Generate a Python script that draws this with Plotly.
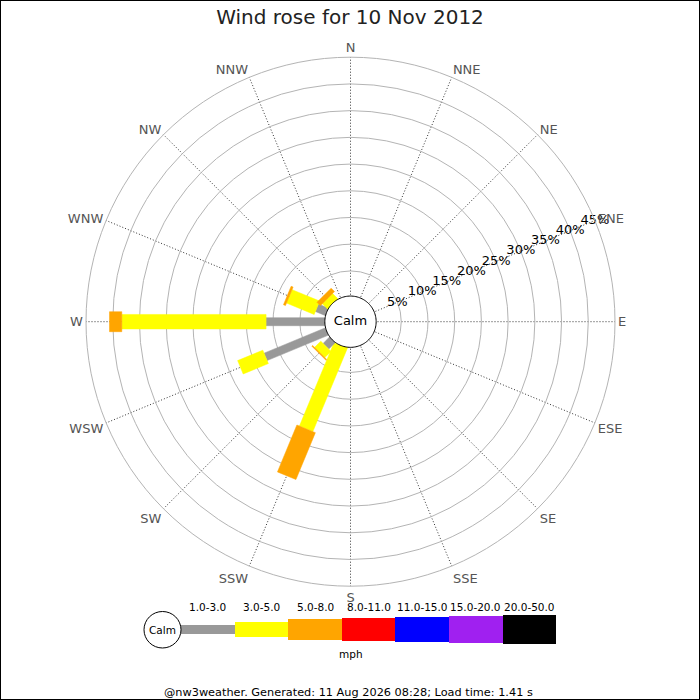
import numpy as np
import plotly.graph_objects as go

# compass points, clockwise from north
directions = ["N", "NNE", "NE", "ENE", "E", "ESE", "SE", "SSE",
              "S", "SSW", "SW", "WSW", "W", "WNW", "NW", "NNW"]
dir_angles = [0, 22.5, 45, 67.5, 90, 112.5, 135, 157.5,
              180, 202.5, 225, 247.5, 270, 292.5, 315, 337.5]

speed_ranges = ["1.0-3.0", "3.0-5.0", "5.0-8.0", "8.0-11.0",
                "11.0-15.0", "15.0-20.0", "20.0-50.0"]
range_colors = ["#999999", "#ffff00", "#ffa500", "#ff0000",
                "#0000ff", "#a020f0", "#000000"]

# % of time per direction for each speed range (mph)
pct_1_3 = [0, 0, 0, 0, 0, 0, 0, 0, 0, 0, 2.0, 12.7, 11.3, 2.3, 0, 0]
pct_3_5 = [0, 0, 0, 0, 0, 0, 0, 0, 0, 17.2, 1.65, 5.1, 27.0, 5.6, 1.6, 0]
pct_5_8 = [0, 0, 0, 0, 0, 0, 0, 0, 0, 9.5, 0.2, 0, 2.3, 0.4, 0.9, 0]
pct_8_11 = [0] * 16
pct_11_15 = [0] * 16
pct_15_20 = [0] * 16
pct_20_50 = [0] * 16
calm_pct = 0

ring_ticks = [5, 10, 15, 20, 25, 30, 35, 40, 45]
ring_labels = ["5%", "10%", "15%", "20%", "25%", "30%", "35%", "40%", "45%"]

title_text = "Wind rose for 10 Nov 2012"
unit_text = "mph"
footer_text = "@nw3weather. Generated: 11 Aug 2026 08:28; Load time: 1.41 s"

# --- geometry ---
W = H = 700
CX, CY, RAD = 350.5, 321.7, 264.5       # polar circle in pixels
R_MIN, R_MAX = -4.5, 45                  # calm circle edge sits at r = 0
PX_PER_UNIT = RAD / (R_MAX - R_MIN)
bar_px = [8, 14.5, 20, 23, 25, 27, 29]   # bar thickness per speed range
legend_px = [8.3, 15, 20.3, 23, 25, 27, 28.7]
FONT = "DejaVu Sans"


def seg_polygon(theta0, r_in, r_out, width_px):
    # straight-sided bar segment along direction theta0
    half = width_px / 2 / PX_PER_UNIT
    d_in, d_out = r_in - R_MIN, r_out - R_MIN
    pts = [(d_in, -half), (d_out, -half), (d_out, half), (d_in, half), (d_in, -half)]
    r = [np.hypot(d, s) + R_MIN for d, s in pts]
    th = [theta0 + np.degrees(np.arctan2(s, d)) for d, s in pts]
    return r, th


series = [pct_1_3, pct_3_5, pct_5_8, pct_8_11, pct_11_15, pct_15_20, pct_20_50]

fig = go.Figure()

for i, ang in enumerate(dir_angles):
    base = 0.0
    for k, vals in enumerate(series):
        v = vals[i]
        if v <= 0:
            continue
        r, th = seg_polygon(ang, base, base + v, bar_px[k])
        fig.add_trace(go.Scatterpolar(
            r=r, theta=th, mode="lines", fill="toself",
            fillcolor=range_colors[k],
            line=dict(color=range_colors[k], width=0.5),
            hoverinfo="skip", showlegend=False))
        base += v

# calm circle in the middle
circ_theta = np.linspace(0, 360, 121)
fig.add_trace(go.Scatterpolar(
    r=[0.3] * len(circ_theta), theta=circ_theta, mode="lines", fill="toself",
    fillcolor="white", line=dict(color="black", width=1),
    hoverinfo="skip", showlegend=False))
fig.add_trace(go.Scatterpolar(
    r=[R_MIN], theta=[0], mode="text", text=["Calm"],
    textfont=dict(family=FONT, size=13, color="black"),
    hoverinfo="skip", showlegend=False, cliponaxis=False))

# percentage labels along the ENE spoke
fig.add_trace(go.Scatterpolar(
    r=ring_ticks, theta=[67.5] * len(ring_ticks), mode="text", text=ring_labels,
    textfont=dict(family=FONT, size=13, color="black"),
    hoverinfo="skip", showlegend=False, cliponaxis=False))

# legend strip, drawn on a hidden cartesian axis in pixel units
seg_w = 53.6
leg_x0 = 181
leg_cy = 629.5
leg_centers = [leg_x0 + seg_w * (k + 0.5) for k in range(len(speed_ranges))]
fig.add_trace(go.Bar(
    x=leg_centers, y=legend_px,
    base=[leg_cy - h / 2 for h in legend_px],
    width=seg_w, marker=dict(color=range_colors, line=dict(width=0)),
    hoverinfo="skip", showlegend=False))

annotations = []
for k, lab in enumerate(speed_ranges):
    annotations.append(dict(
        x=leg_centers[k], y=606.5, xref="x", yref="y", text=lab, showarrow=False,
        font=dict(family=FONT, size=10.5, color="black")))
annotations.append(dict(x=162.5, y=629.7, xref="x", yref="y", text="Calm", showarrow=False,
                        font=dict(family=FONT, size=10.5, color="black")))
annotations.append(dict(x=351, y=654, xref="x", yref="y", text=unit_text, showarrow=False,
                        font=dict(family=FONT, size=10.5, color="black")))
annotations.append(dict(x=348, y=692, xref="x", yref="y", text=footer_text, showarrow=False,
                        font=dict(family=FONT, size=11.3, color="black")))

shapes = [
    dict(type="circle", xref="x", yref="y", x0=144, x1=181, y0=611.5, y1=648,
         line=dict(color="black", width=1), fillcolor="white"),
    dict(type="rect", xref="paper", yref="paper", x0=0, x1=1, y0=0, y1=1,
         line=dict(color="black", width=2)),
]

fig.update_layout(
    width=W, height=H, autosize=False,
    margin=dict(l=0, r=0, t=0, b=0),
    paper_bgcolor="white", plot_bgcolor="white",
    font=dict(family=FONT),
    title=dict(text=title_text, x=0.5, xanchor="center", y=1 - 17 / H, yanchor="middle",
               font=dict(family=FONT, size=20, color="#222222")),
    polar=dict(
        domain=dict(x=[(CX - RAD) / W, (CX + RAD) / W],
                    y=[1 - (CY + RAD) / H, 1 - (CY - RAD) / H]),
        bgcolor="white",
        radialaxis=dict(range=[R_MIN, R_MAX], tickvals=ring_ticks, showticklabels=False,
                        ticks="", showline=False, gridcolor="#b4b4b4", gridwidth=1),
        angularaxis=dict(rotation=90, direction="clockwise", tickmode="array",
                         tickvals=dir_angles, ticktext=directions, ticks="",
                         showgrid=True, gridcolor="#333333", griddash="1px,2px", gridwidth=1,
                         showline=True, linecolor="#b4b4b4", linewidth=1,
                         tickfont=dict(family=FONT, size=13, color="#555555")),
    ),
    xaxis=dict(domain=[0, 1], range=[0, W], visible=False, fixedrange=True),
    yaxis=dict(domain=[0, 0.16], range=[H, 588], visible=False, fixedrange=True),
    bargap=0,
    annotations=annotations,
    shapes=shapes,
)

# drop the browser's default body margin so the 700x700 figure fills the window
fig.write_html("out.html", config={"displayModeBar": False},
               post_script="document.body.style.margin='0';")
